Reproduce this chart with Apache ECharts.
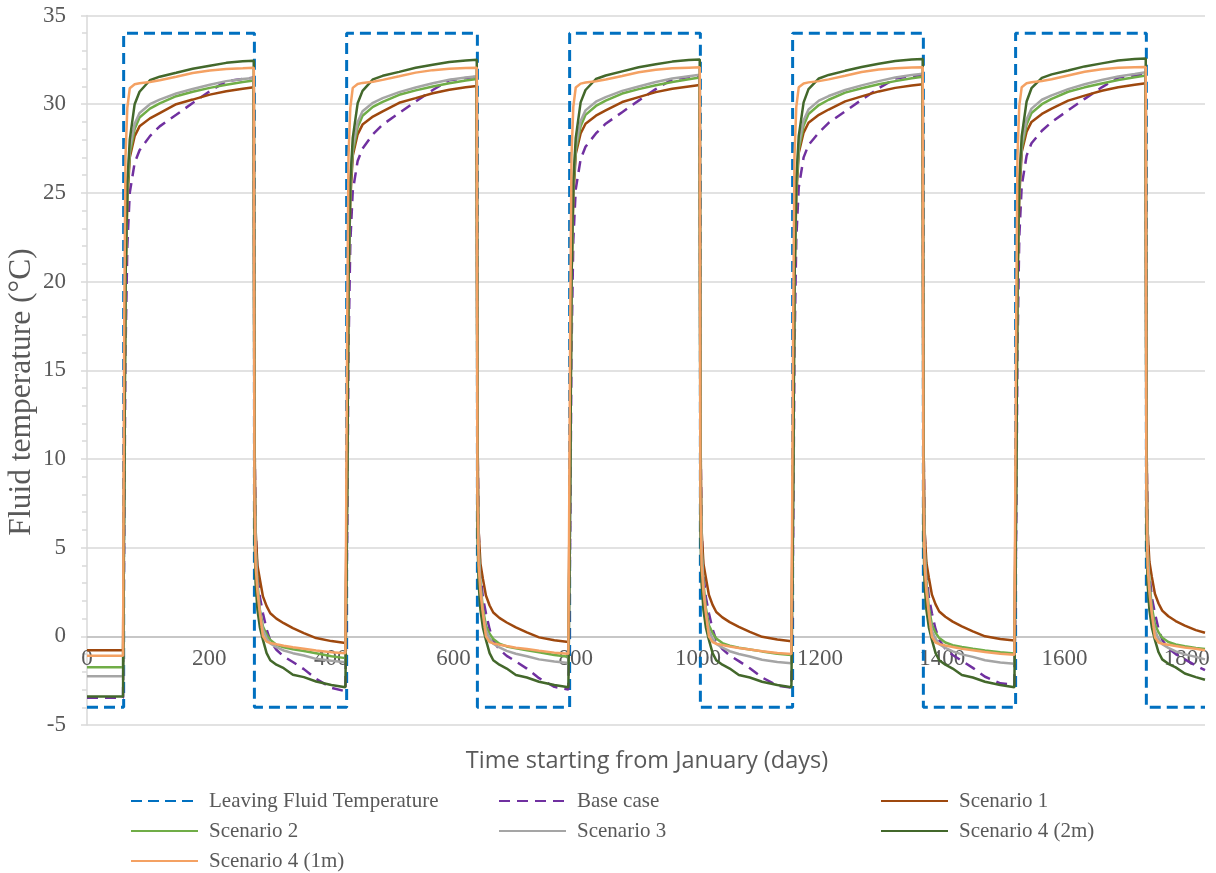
<!DOCTYPE html>
<html>
<head>
<meta charset="utf-8">
<script src="https://cdn.jsdelivr.net/npm/echarts@6/dist/echarts.min.js"></script>
<style>
html,body{margin:0;padding:0;background:#fff;}
#chart{width:1216px;height:873px;}
</style>
</head>
<body>
<div id="chart"></div>
<script>
// Sample days (x values) shared by the six scenario curves
const days = [0, 59,
  60,61,63,66,70,78,86,103,119,146,173,201,228,255,273,
  274,276,279,283,288,294,300,310,322,337,355,375,400,423,
  425,426,428,431,435,443,451,468,484,511,538,566,593,620,638,
  639,641,644,648,653,659,665,675,687,702,720,740,765,788,
  790,791,793,796,800,808,816,833,849,876,903,931,958,985,1003,
  1004,1006,1009,1013,1018,1024,1030,1040,1052,1067,1085,1105,1130,1153,
  1155,1156,1158,1161,1165,1173,1181,1198,1214,1241,1268,1296,1323,1350,1368,
  1369,1371,1374,1378,1383,1389,1395,1405,1417,1432,1450,1470,1495,1518,
  1520,1521,1523,1526,1530,1538,1546,1563,1579,1606,1633,1661,1688,1715,1733,
  1734,1736,1739,1743,1748,1754,1760,1770,1782,1797,1815,1830];

// Leaving fluid temperature (square wave)
const lftDays = [0,60,60,274,274,425,425,639,639,790,790,1004,1004,1155,1155,1369,1369,1520,1520,1734,1734,1830];
const lftValues = [-4,-4,34,34,-4,-4,34,34,-4,-4,34,34,-4,-4,34,34,-4,-4,34,34,-4,-4];

const baseCase = [-3.47,-3.47,
  -3.47,6,16,22,25.0,26.7,27.4,28.2,28.75,29.4,30.07,30.73,31.3,31.42,31.5,
  12,6,3.5,2.2,1.3,0.4,-0.25,-0.76,-1.14,-1.45,-1.85,-2.4,-2.9,-3.1,
  -3.1,6,16,22.2,25.1,26.8,27.5,28.3,28.85,29.5,30.15,30.8,31.35,31.48,31.55,
  12,6,3.5,2.2,1.3,0.4,-0.25,-0.74,-1.1,-1.42,-1.82,-2.36,-2.85,-3.0,
  -3.0,6,16,22.3,25.2,26.9,27.6,28.35,28.9,29.55,30.2,30.85,31.4,31.53,31.6,
  12,6,3.5,2.2,1.3,0.4,-0.22,-0.72,-1.08,-1.4,-1.8,-2.32,-2.78,-2.9,
  -2.9,6,16,22.4,25.3,27.0,27.7,28.4,28.95,29.6,30.25,30.9,31.45,31.58,31.65,
  12,6,3.5,2.2,1.3,0.4,-0.2,-0.7,-1.05,-1.38,-1.78,-2.28,-2.65,-2.74,
  -2.74,6,16,22.5,25.4,27.1,27.8,28.5,29.0,29.65,30.3,30.95,31.5,31.62,31.7,
  12,6,3.5,2.2,1.3,0.4,-0.2,-0.68,-1.0,-1.3,-1.65,-1.9];

const scenario1 = [-0.78,-0.78,
  -0.78,12,20,24.5,27.0,28.2,28.75,29.2,29.5,30.0,30.26,30.54,30.73,30.87,30.95,
  12,6,4.0,3.2,2.25,1.7,1.3,1.0,0.74,0.46,0.18,-0.1,-0.27,-0.38,
  -0.38,12,20,24.6,27.1,28.3,28.85,29.3,29.6,30.08,30.34,30.62,30.81,30.95,31.03,
  12,6,4.1,3.25,2.3,1.74,1.34,1.04,0.78,0.5,0.22,-0.06,-0.22,-0.32,
  -0.32,12,20,24.7,27.2,28.35,28.9,29.35,29.65,30.12,30.4,30.68,30.87,31.0,31.08,
  12,6,4.1,3.3,2.33,1.77,1.37,1.07,0.8,0.53,0.25,-0.03,-0.18,-0.28,
  -0.28,12,20,24.8,27.25,28.4,28.95,29.4,29.7,30.16,30.44,30.72,30.92,31.05,31.13,
  12,6,4.15,3.3,2.35,1.8,1.4,1.1,0.83,0.56,0.28,0.0,-0.15,-0.24,
  -0.24,12,20,24.8,27.3,28.45,29.0,29.45,29.75,30.2,30.48,30.76,30.96,31.1,31.18,
  12,6,4.2,3.35,2.4,1.85,1.45,1.13,0.86,0.6,0.35,0.2];

const scenario2 = [-1.74,-1.74,
  -1.74,10,20,25.0,27.2,28.6,29.25,29.75,30.05,30.45,30.7,30.92,31.1,31.25,31.33,
  10,5,3.0,1.5,0.55,0.1,-0.2,-0.48,-0.62,-0.73,-0.83,-0.95,-1.12,-1.23,
  -1.23,10,20,25.1,27.3,28.7,29.35,29.85,30.13,30.53,30.78,31.0,31.18,31.33,31.42,
  10,5,3.0,1.55,0.6,0.15,-0.15,-0.42,-0.57,-0.68,-0.78,-0.9,-1.05,-1.15,
  -1.15,10,20,25.2,27.4,28.75,29.4,29.9,30.2,30.6,30.85,31.07,31.25,31.4,31.5,
  10,5,3.0,1.6,0.62,0.18,-0.12,-0.38,-0.53,-0.64,-0.74,-0.85,-0.98,-1.05,
  -1.05,10,20,25.2,27.45,28.8,29.45,29.95,30.25,30.65,30.9,31.12,31.3,31.46,31.55,
  10,5,3.05,1.62,0.65,0.2,-0.1,-0.35,-0.5,-0.6,-0.7,-0.8,-0.9,-0.97,
  -0.97,10,20,25.3,27.5,28.85,29.5,30.0,30.3,30.7,30.95,31.17,31.36,31.52,31.62,
  10,5,3.1,1.65,0.68,0.22,-0.08,-0.32,-0.46,-0.56,-0.66,-0.72];

const scenario3 = [-2.25,-2.25,
  -2.25,10,20,25.5,27.5,28.9,29.5,30.0,30.26,30.6,30.86,31.1,31.3,31.42,31.48,
  10,5,2.8,1.3,0.37,-0.1,-0.4,-0.61,-0.8,-0.95,-1.08,-1.27,-1.38,-1.46,
  -1.46,10,20,25.6,27.6,29.0,29.6,30.08,30.34,30.68,30.94,31.18,31.38,31.5,31.58,
  10,5,2.8,1.3,0.35,-0.12,-0.42,-0.63,-0.82,-0.98,-1.12,-1.3,-1.42,-1.5,
  -1.5,10,20,25.6,27.65,29.05,29.65,30.14,30.4,30.75,31.0,31.25,31.45,31.58,31.66,
  10,5,2.8,1.28,0.34,-0.13,-0.43,-0.64,-0.84,-1.0,-1.14,-1.32,-1.45,-1.52,
  -1.52,10,20,25.7,27.7,29.1,29.7,30.2,30.46,30.8,31.06,31.3,31.5,31.64,31.72,
  10,5,2.8,1.28,0.33,-0.14,-0.44,-0.65,-0.85,-1.02,-1.16,-1.35,-1.48,-1.55,
  -1.55,10,20,25.7,27.75,29.15,29.75,30.25,30.5,30.85,31.12,31.36,31.56,31.7,31.8,
  10,5,2.8,1.28,0.33,-0.14,-0.44,-0.65,-0.85,-1.02,-1.16,-1.3];

const scenario4_2m = [-3.4,-3.4,
  -3.4,8,20,25.5,28.0,30.0,30.7,31.35,31.55,31.77,32.0,32.17,32.33,32.42,32.45,
  6,3,1.5,0.5,-0.2,-0.95,-1.35,-1.6,-1.8,-2.17,-2.3,-2.55,-2.74,-2.87,
  -2.87,8,20,25.6,28.1,30.05,30.75,31.4,31.6,31.82,32.05,32.22,32.38,32.46,32.5,
  6,3,1.5,0.5,-0.2,-0.95,-1.35,-1.6,-1.82,-2.18,-2.32,-2.56,-2.75,-2.87,
  -2.87,8,20,25.6,28.1,30.1,30.8,31.42,31.62,31.85,32.08,32.25,32.4,32.49,32.52,
  6,3,1.5,0.5,-0.2,-0.95,-1.35,-1.6,-1.82,-2.18,-2.32,-2.56,-2.75,-2.87,
  -2.87,8,20,25.7,28.2,30.1,30.85,31.45,31.65,31.88,32.1,32.28,32.43,32.52,32.55,
  6,3,1.5,0.5,-0.2,-0.95,-1.35,-1.6,-1.82,-2.18,-2.32,-2.56,-2.75,-2.87,
  -2.87,8,20,25.7,28.2,30.15,30.9,31.48,31.68,31.9,32.13,32.3,32.46,32.55,32.58,
  6,3,1.5,0.5,-0.2,-0.9,-1.3,-1.55,-1.75,-2.1,-2.3,-2.45];

const scenario4_1m = [-1.1,-1.1,
  -1.1,18,27,29.8,30.9,31.12,31.18,31.25,31.35,31.55,31.76,31.9,31.98,32.02,32.05,
  8,4,2.5,1.3,0.0,-0.3,-0.38,-0.45,-0.53,-0.62,-0.7,-0.8,-0.9,-0.95,
  -0.95,18,27,29.8,30.92,31.14,31.2,31.27,31.37,31.57,31.78,31.92,32.0,32.04,32.06,
  8,4,2.5,1.3,0.0,-0.32,-0.4,-0.47,-0.55,-0.64,-0.72,-0.82,-0.92,-0.98,
  -0.98,18,27,29.85,30.94,31.16,31.22,31.29,31.39,31.59,31.8,31.94,32.02,32.06,32.08,
  8,4,2.5,1.28,-0.02,-0.33,-0.42,-0.49,-0.57,-0.66,-0.74,-0.84,-0.94,-1.0,
  -1.0,18,27,29.85,30.95,31.17,31.23,31.3,31.4,31.6,31.81,31.95,32.03,32.07,32.08,
  8,4,2.5,1.27,-0.03,-0.35,-0.44,-0.52,-0.6,-0.7,-0.78,-0.88,-0.98,-1.04,
  -1.04,18,27,29.9,30.96,31.18,31.24,31.31,31.41,31.62,31.83,31.97,32.05,32.08,32.1,
  8,4,2.5,1.25,-0.05,-0.35,-0.42,-0.48,-0.55,-0.63,-0.7,-0.78];

const seriesNames = ['Leaving Fluid Temperature','Base case','Scenario 1','Scenario 2','Scenario 3','Scenario 4 (2m)','Scenario 4 (1m)'];
const yTicks = [-5, 35, 5];
const xTicks = [0, 1830, 200];

const zip = (xs, ys) => xs.map((x, i) => [x, ys[i]]);
const SERIF = 'Liberation Serif, Times New Roman, serif';

const chart = echarts.init(document.getElementById('chart'), null, {renderer: 'canvas'});

function lineSeries(name, data, color, width, type, z) {
  return {
    name, type: 'line', data, symbol: 'none', showSymbol: false, z: z,
    lineStyle: {color, width, type},
    itemStyle: {color},
    emphasis: {disabled: true},
    animation: false
  };
}

const legendCommon = {
  orient: 'vertical', itemWidth: 67, itemHeight: 14, itemGap: 8, padding: 0,
  itemStyle: {opacity: 0},
  textStyle: {fontFamily: SERIF, fontSize: 21, color: '#595959', lineHeight: 22, padding: [0, 0, 0, 6]},
  selectedMode: false
};

// grid geometry
const gridTop = 15.5, gridBottom = 148, chartH = 873;
const plotH = chartH - gridTop - gridBottom;
const zeroOffset = -plotH * (0 - yTicks[0]) / (yTicks[1] - yTicks[0]);

chart.setOption({
  backgroundColor: '#ffffff',
  animation: false,
  grid: {left: 87, right: 11, top: gridTop, bottom: gridBottom, containLabel: false},
  xAxis: {
    type: 'value', min: xTicks[0], max: xTicks[1], interval: xTicks[2],
    position: 'bottom', offset: zeroOffset,
    axisLine: {show: true, onZero: false, lineStyle: {color: '#bfbfbf', width: 1.5}},
    axisTick: {show: false},
    splitLine: {show: false},
    axisLabel: {
      margin: 11, fontFamily: SERIF, fontSize: 23, color: '#595959',
      formatter: v => (v % 200 === 0 ? String(v) : ''),
      showMaxLabel: false
    }
  },
  yAxis: {
    type: 'value', min: yTicks[0], max: yTicks[1], interval: yTicks[2],
    axisLine: {show: true, onZero: false, lineStyle: {color: '#d9d9d9', width: 1.5}},
    axisTick: {show: true, length: 6, lineStyle: {color: '#d9d9d9', width: 1.5}},
    minorTick: {show: true, splitNumber: 5, length: 5, lineStyle: {color: '#d9d9d9', width: 1.5}},
    splitLine: {show: true, lineStyle: {color: '#d9d9d9', width: 1.5}},
    axisLabel: {margin: 21, fontFamily: SERIF, fontSize: 23, color: '#595959'}
  },
  legend: [
    Object.assign({}, legendCommon, {left: 130, top: 790, data: [seriesNames[0], seriesNames[3], seriesNames[6]]}),
    Object.assign({}, legendCommon, {left: 498, top: 790, data: [seriesNames[1], seriesNames[4]]}),
    Object.assign({}, legendCommon, {left: 880, top: 790, data: [seriesNames[2], seriesNames[5]]})
  ],
  graphic: [
    {type: 'text', x: 647, y: 761,
     style: {text: 'Time starting from January (days)', font: '23.5px "Open Sans", Lato, sans-serif', fill: '#595959', textAlign: 'center', textVerticalAlign: 'middle'}},
    {type: 'text', x: 22, y: 392, rotation: Math.PI / 2,
     style: {text: 'Fluid temperature (°C)', font: '31.5px ' + SERIF, fill: '#595959', textAlign: 'center', textVerticalAlign: 'middle'}}
  ],
  series: [
    lineSeries(seriesNames[0], zip(lftDays, lftValues), '#0070C0', 3, [11, 6], 2),
    lineSeries(seriesNames[1], zip(days, baseCase), '#7030A0', 2.5, [11, 7], 3),
    lineSeries(seriesNames[2], zip(days, scenario1), '#9E480E', 2.5, 'solid', 4),
    lineSeries(seriesNames[3], zip(days, scenario2), '#70AD47', 2.5, 'solid', 5),
    lineSeries(seriesNames[4], zip(days, scenario3), '#A5A5A5', 2.5, 'solid', 6),
    lineSeries(seriesNames[5], zip(days, scenario4_2m), '#43682B', 2.5, 'solid', 7),
    lineSeries(seriesNames[6], zip(days, scenario4_1m), '#F4A163', 2.5, 'solid', 8)
  ]
});
</script>
</body>
</html>
